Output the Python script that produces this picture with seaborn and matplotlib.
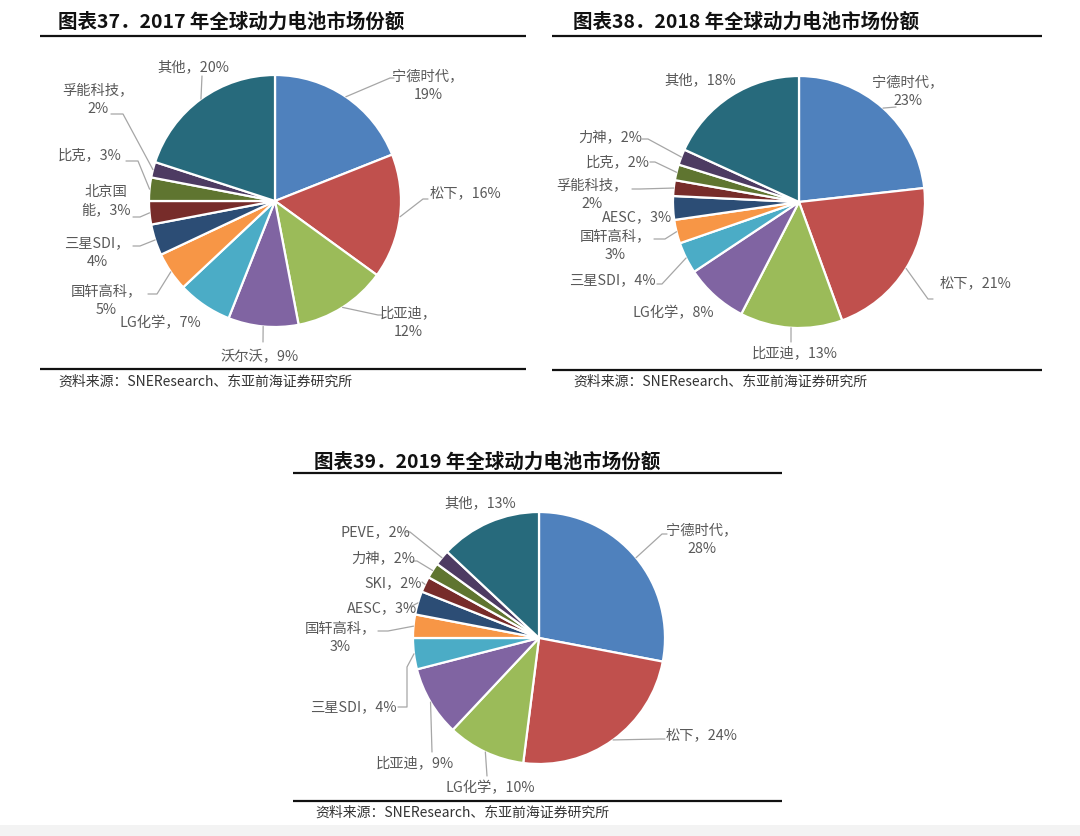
import matplotlib
matplotlib.use("Agg")
import matplotlib.pyplot as plt
import seaborn as sns
import numpy as np

sns.set_theme(style="white")
plt.rcParams["font.family"] = ["Noto Sans CJK SC", "DejaVu Sans"]

# ---------------- data ----------------
labels_2017 = ["宁德时代", "松下", "比亚迪", "沃尔沃", "LG化学", "国轩高科", "三星SDI",
               "北京国能", "比克", "孚能科技", "其他"]
values_2017 = [19, 16, 12, 9, 7, 5, 4, 3, 3, 2, 20]

labels_2018 = ["宁德时代", "松下", "比亚迪", "LG化学", "三星SDI", "国轩高科", "AESC",
               "孚能科技", "比克", "力神", "其他"]
values_2018 = [23, 21, 13, 8, 4, 3, 3, 2, 2, 2, 18]

labels_2019 = ["宁德时代", "松下", "LG化学", "比亚迪", "三星SDI", "国轩高科", "AESC",
               "SKI", "力神", "PEVE", "其他"]
values_2019 = [28, 24, 10, 9, 4, 3, 3, 2, 2, 2, 13]

titles = ["图表37．2017 年全球动力电池市场份额",
          "图表38．2018 年全球动力电池市场份额",
          "图表39．2019 年全球动力电池市场份额"]
source = "资料来源：SNEResearch、东亚前海证券研究所"

colors = sns.color_palette(["#4F81BD", "#C0504D", "#9BBB59", "#8064A2", "#4BACC6",
                            "#F79646", "#2C4D75", "#772C2A", "#5F7530", "#4D3B62",
                            "#276A7C"])

# ---------------- layout (pixels) ----------------
W, H = 1080, 837
R = 126

# label formats: 0 = single line "名，x%", 1 = two lines "名，\nx%", 2 = custom split
layout_2017 = dict(
    center=(275, 202),
    text=[(428, 86), (465, 193), (408, 323), (260, 357), (160, 323), (106, 301),
          (97, 253), (106, 201), (90, 155), (98, 100), (193, 67)],
    fmt=[1, 0, 1, 0, 0, 1, 1, 2, 0, 1, 0],
    leader=[[(390, 79), (394, 79)], [(423, 200), (428, 200)], [(378, 316), (383, 316)],
            [(263, 343)], [], [(157, 295), (148, 295)], [(140, 247), (133, 247)],
            [(140, 218), (133, 218)], [(138, 162), (126, 162)], [(123, 115), (111, 115)],
            [(202, 77)]],
)
layout_2018 = dict(
    center=(799, 203),
    text=[(908, 92), (975, 283), (795, 353), (673, 313), (612, 280), (615, 246),
          (637, 217), (592, 195), (618, 162), (610, 137), (700, 80)],
    fmt=[1, 0, 0, 0, 0, 1, 0, 1, 0, 0, 0],
    leader=[[(896, 108)], [(928, 300), (933, 300)], [(791, 343)], [],
            [(662, 285), (657, 285)], [(665, 240), (654, 240)], [],
            [(640, 190), (632, 190)], [(655, 163), (650, 163)], [(648, 140), (642, 140)], []],
)
layout_2019 = dict(
    center=(539, 639),
    text=[(702, 540), (702, 735), (490, 788), (415, 763), (353, 707), (340, 638),
          (382, 608), (393, 583), (383, 558), (375, 532), (480, 503)],
    fmt=[1, 0, 0, 0, 0, 1, 0, 0, 0, 0, 0],
    leader=[[(662, 535), (667, 535)], [(660, 740), (665, 740)], [(487, 777)],
            [(432, 753)], [(407, 668), (407, 708), (398, 708)], [(388, 632), (378, 632)],
            [(410, 608)], [(422, 583)], [(417, 562), (413, 562)], [(410, 533), (405, 533)], []],
)

panels = [
    dict(title_xy=(58, 22), rule=(40, 526, 37, 370), src_xy=(58, 382)),
    dict(title_xy=(573, 22), rule=(552, 1042, 37, 371), src_xy=(573, 382)),
    dict(title_xy=(314, 462), rule=(293, 782, 474, 802), src_xy=(315, 813)),
]

fig = plt.figure(figsize=(W / 100, H / 100), dpi=100)
fig.patch.set_facecolor("white")

# background axes in pixel coordinates
bg = fig.add_axes([0, 0, 1, 1])
bg.set_xlim(0, W)
bg.set_ylim(H, 0)
bg.axis("off")
bg.axhspan(826, H, color="#f3f3f3", lw=0, zorder=0)

for title, p in zip(titles, panels):
    tx, ty = p["title_xy"]
    bg.text(tx, ty, title, fontsize=14, fontweight="bold", color="#111111",
            ha="left", va="center")
    x0, x1, yt, yb = p["rule"]
    bg.plot([x0, x1], [yt, yt], color="#111111", lw=1.6, solid_capstyle="butt")
    bg.plot([x0, x1], [yb, yb], color="#111111", lw=1.6, solid_capstyle="butt")
    sx, sy = p["src_xy"]
    bg.text(sx, sy, source, fontsize=10, color="#333333", ha="left", va="center")


def fmt_label(name, val, kind):
    if kind == 1:
        return f"{name}，\n{val}%"
    if kind == 2:
        return f"{name[:3]}\n{name[3:]}，{val}%"
    return f"{name}，{val}%"


def draw_pie(labels, values, lay):
    cx, cy = lay["center"]
    ax = fig.add_axes([0, 0, 1, 1])
    ax.patch.set_alpha(0)
    ax.pie(values, colors=colors, startangle=90, counterclock=False, radius=1.0,
           wedgeprops=dict(edgecolor="white", linewidth=1.6))
    ax.set_aspect("auto")
    ax.set_xlim((0 - cx) / R, (W - cx) / R)
    ax.set_ylim((cy - H) / R, (cy - 0) / R)
    ax.axis("off")

    def to_d(px, py):
        return (px - cx) / R, (cy - py) / R

    total = float(sum(values))
    cum = np.cumsum([0] + list(values)) / total
    for i, (name, val) in enumerate(zip(labels, values)):
        mid = (cum[i] + cum[i + 1]) / 2
        ang = np.deg2rad(90 - 360 * mid)
        tx, ty = to_d(*lay["text"][i])
        ax.text(tx, ty, fmt_label(name, val, lay["fmt"][i]), fontsize=10.3,
                color="#595959", ha="center", va="center", multialignment="center",
                linespacing=1.45)
        pts = lay["leader"][i]
        if pts:
            xs = [np.cos(ang)] + [to_d(*q)[0] for q in pts]
            ys = [np.sin(ang)] + [to_d(*q)[1] for q in pts]
            ax.plot(xs, ys, color="#A6A6A6", lw=0.9)


draw_pie(labels_2017, values_2017, layout_2017)
draw_pie(labels_2018, values_2018, layout_2018)
draw_pie(labels_2019, values_2019, layout_2019)

fig.savefig("out.png", dpi=100, facecolor="white")
